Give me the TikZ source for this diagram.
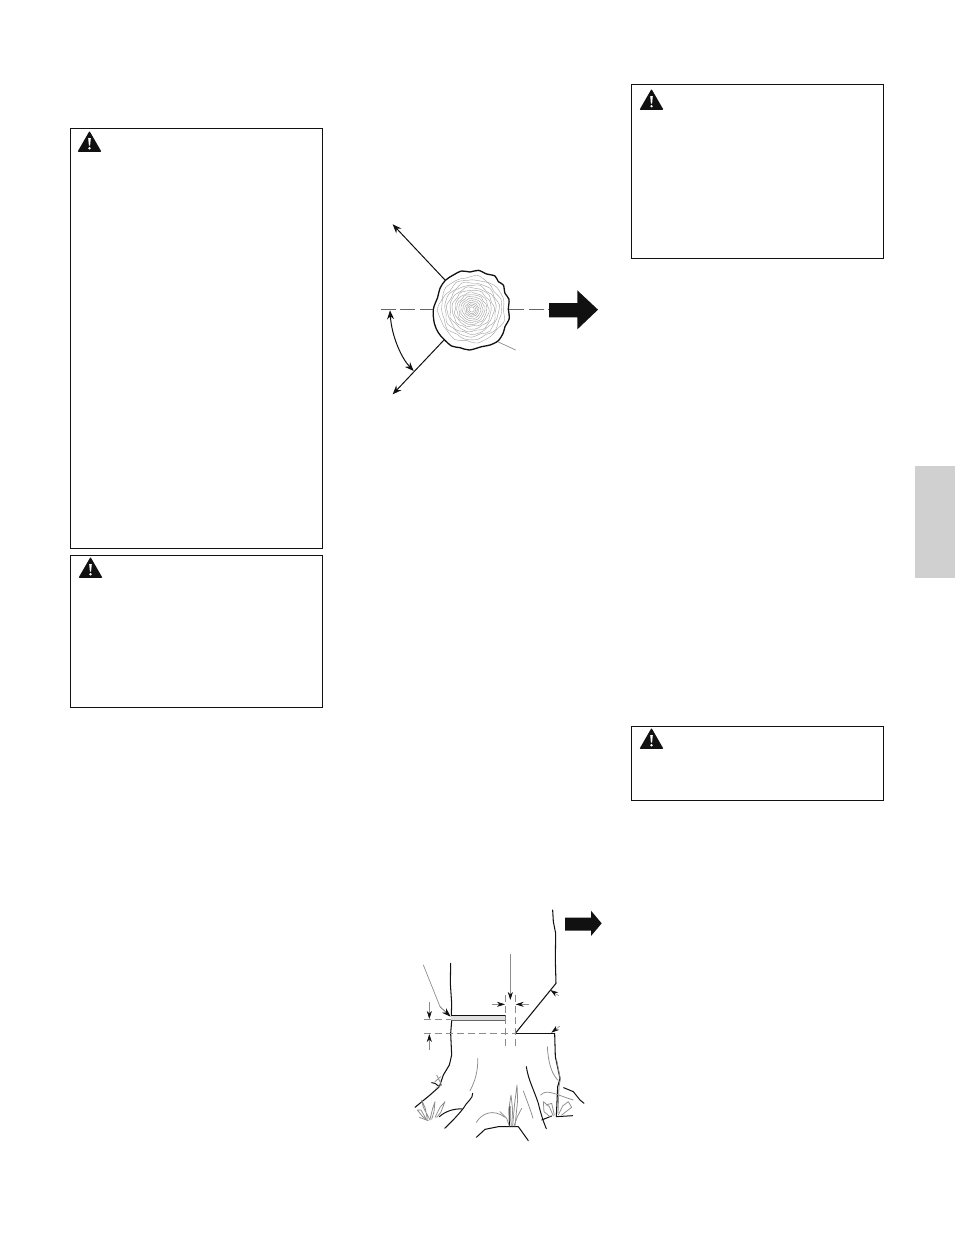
\documentclass[tikz,border=0pt]{standalone}
\usetikzlibrary{arrows.meta}
\definecolor{tabgray}{HTML}{D0D0D0}
\definecolor{ink}{HTML}{111111}
\definecolor{ringgray}{HTML}{A0A0A0}
\definecolor{dashgray}{HTML}{666666}
\definecolor{softgray}{HTML}{8C8C8C}
\tikzset{
  warnbox/.style={draw=ink,line width=0.8pt,rectangle,inner sep=0pt,fill=white},
  warnicon/.pic={
    \fill[ink,rounded corners=0.8pt] (0,-11) -- (12,9.8) -- (-12,9.8) -- cycle;
    \fill[white] (-1.3,-4) -- (1.3,-4) -- (0.6,3.6) -- (-0.6,3.6) -- cycle;
    \fill[white] (0,6.2) circle (1.3);
  },
  solidline/.style={draw=ink,line width=1.05pt,line cap=round,line join=round},
  thinline/.style={draw=softgray,line width=0.7pt,line cap=round,line join=round},
  dimdash/.style={draw=softgray,line width=0.65pt,dash pattern=on 7pt off 4pt},
  logdash/.style={draw=dashgray,line width=1.2pt,dash pattern=on 15pt off 4.5pt},
  dimarrow/.style={draw=softgray,line width=0.6pt,-{Stealth[length=8pt,width=5pt,color=ink]}},
  bigarrow/.style={fill=ink,draw=none},
  fellarrow/.style={draw=ink,line width=1pt,-{Stealth[length=9pt,width=7pt]}},
  rootdark/.style={draw=ink,line width=1pt,line cap=round,line join=round},
  rootgray/.style={draw=softgray,line width=0.75pt,line cap=round,line join=round},
}
\begin{document}
\begin{tikzpicture}[x=1pt,y=-1pt]
\useasboundingbox (0,0) rectangle (954,1235);
\fill[white] (0,0) rectangle (954,1235);

% side tab
\node (tab) [fill=tabgray,draw=none,minimum width=40pt,minimum height=112pt,inner sep=0pt] at (934.5,522) {};

% warning boxes
\node (boxA) [warnbox,minimum width=252pt,minimum height=420pt] at (196.5,338) {};
\node (boxB) [warnbox,minimum width=252pt,minimum height=152pt] at (196.5,631.5) {};
\node (boxC) [warnbox,minimum width=252pt,minimum height=174pt] at (757.5,171.5) {};
\node (boxD) [warnbox,minimum width=252pt,minimum height=74pt] at (757.5,763.5) {};
\pic at (89.5,142) {warnicon};
\pic at (90.5,568) {warnicon};
\pic at (651.5,100) {warnicon};
\pic at (651.5,739) {warnicon};

% ===== log cross-section =====
\foreach \r/\p in {2.5/10,4/40,5.5/80,7/120,9/20,11/60,13/100,15/150,17/30,19.5/200,22/70,24.5/250,27/110,30/170,33/300}{
  \draw[ringgray,line width=0.4pt]
    plot[smooth cycle,domain=0:350,samples=36]
    ({471.7+(\r*(1+0.03*sin(7*\x+\p)+0.02*sin(11*\x+2*\p)))*cos(\x)},
     {309.5+(\r*(1+0.03*sin(7*\x+\p)+0.02*sin(11*\x+2*\p)))*sin(\x)});
}
\begin{scope}[xshift=370pt,yshift=-210pt,x=0.33333pt,y=-0.33333pt]
\draw[ink,line width=1.3pt,line join=round] plot[smooth cycle,tension=0.55] coordinates {
 (226,211) (250,195) (275,183) (300,186) (325,181) (350,192) (375,198) (385,215)
 (400,225) (405,250) (417,268) (415,298) (418,325) (405,350) (400,368) (385,392)
 (360,405) (335,410) (298,420) (270,413) (245,408) (222,388) (205,368) (193,340)
 (190,298) (203,262) (210,235)};
\coordinate (logNW) at (225,210);
\coordinate (farNW) at (68,43);
\coordinate (logSW) at (221,391);
\coordinate (farSW) at (68,553);
\coordinate (dashA) at (32,298);
\coordinate (dashB) at (190,298);
\coordinate (dashC) at (418,298);
\coordinate (dashD) at (537,298);
\coordinate (angleA) at (60,301);
\coordinate (angleB) at (131,483);
\coordinate (leadA) at (385,396);
\coordinate (leadB) at (437,420);
\draw[fellarrow] (logNW) -- (farNW);
\draw[fellarrow] (logSW) -- (farSW);
\draw[logdash] (dashA) -- (dashB);
\draw[logdash] (dashC) -- (dashD);
\draw[ink,line width=1pt,{Stealth[length=9pt,width=7pt]}-{Stealth[length=9pt,width=7pt]}] (angleA) .. controls (65,380) and (95,445) .. (angleB);
\draw[thinline] (leadA) -- (leadB);
\fill[bigarrow] (537,279) -- (622,279) -- (622,241) -- (684,299) -- (622,358) -- (622,322) -- (537,322) -- cycle;
\end{scope}

% ===== stump: upper part =====
\begin{scope}[xshift=410pt,yshift=-900pt,x=0.33333pt,y=-0.33333pt]
\fill[bigarrow] (465,53) -- (543,53) -- (543,32) -- (575,70) -- (543,108) -- (543,92) -- (465,92) -- cycle;
\coordinate (trunkTop) at (428,30);
\coordinate (hinge) at (438,250);
\coordinate (noseTop) at (316,400);
\draw[solidline] (trunkTop) -- (430,65) -- (437,100) -- (436,180) -- (hinge) -- (noseTop);
\draw[solidline] (122,190) -- (121,250) -- (125,310) -- (124,345);
% back cut
\fill[gray!25] (124,346) rectangle (285,360);
\draw[ink,line width=1.1pt] (124,346) -- (285,346);
\draw[draw=dashgray,line width=0.9pt] (124,361) -- (285,361) -- (285,346);
% leaders
\coordinate (leadC) at (40,195);
\coordinate (leadD) at (122,350);
\draw[thinline] (leadC) -- (90,320);
\draw[draw=dashgray,line width=0.7pt,-{Stealth[length=9pt,width=6pt,color=ink]}] (90,320) -- (leadD);
\coordinate (dimTop) at (301,162);
\coordinate (dimBot) at (301,300);
\draw[dimarrow] (dimTop) -- (dimBot);
\coordinate (hL1) at (245,313);
\coordinate (hL2) at (285,313);
\coordinate (hR1) at (358,313);
\coordinate (hR2) at (317,313);
\draw[dimarrow] (hL1) -- (hL2);
\draw[dimarrow] (hR1) -- (hR2);
\coordinate (vA1) at (58,307);
\coordinate (vA2) at (58,357);
\draw[dimarrow] (vA1) -- (vA2);
\coordinate (nA1) at (446,287);
\coordinate (nA2) at (421,270);
\draw[dimarrow] (nA1) -- (nA2);
\end{scope}

% ===== stump: lower part =====
\begin{scope}[xshift=410pt,yshift=-1020pt,x=0.33333pt,y=-0.33333pt]
\coordinate (cutR) at (434,40);
\coordinate (cutL) at (316,40);
\draw[solidline] (cutL) -- (cutR);
\draw[solidline] (125,3) -- (122,40) -- (125,105) -- (118,135) -- (100,165) -- (88,200) -- (60,225) -- (15,262);
\draw[solidline] (cutR) -- (436,110) -- (450,175) -- (443,200) -- (439,290);
\draw[rootgray] (440,120) -- (451,178) -- (447,200) -- (444,280);
\draw[rootgray] (412,80) .. controls (415,130) and (425,160) .. (443,180);
% dashes
\coordinate (dh1) at (43,40);
\coordinate (dh2) at (316,40);
\draw[dimdash] (dh1) -- (dh2);
\coordinate (dv1) at (285,-75);
\coordinate (dv2) at (285,90);
\coordinate (dv3) at (317,-75);
\coordinate (dv4) at (317,90);
\draw[dimdash] (dv1) -- (dv2);
\draw[dimdash] (dv3) -- (dv4);
\coordinate (dh3) at (43,-3);
\coordinate (dh4) at (124,-3);
\draw[dimdash] (dh3) -- (dh4);
\coordinate (vB1) at (58,90);
\coordinate (vB2) at (58,42);
\draw[dimarrow] (vB1) -- (vB2);
\coordinate (nB1) at (450,18);
\coordinate (nB2) at (424,38);
\draw[dimarrow] (nB1) -- (nB2);
% stump contours
\draw[rootgray] (203,115) .. controls (205,150) and (195,185) .. (180,212);
\draw[rootdark] (349,140) .. controls (355,180) and (370,205) .. (385,250) .. controls (392,280) and (400,305) .. (409,326);
\draw[rootgray] (340,213) .. controls (350,240) and (360,265) .. (369,295);
\draw[rootdark] (188,220) .. controls (190,235) and (170,245) .. (160,265) .. controls (140,290) and (120,310) .. (104,325);
\draw[rootdark] (157,267) .. controls (130,265) and (105,275) .. (88,290);
\draw[rootdark] (199,352) -- (225,328) -- (265,320) -- (300,320) -- (325,320) -- (355,362);
\draw[rootgray] (199,307) .. controls (215,280) and (250,265) .. (285,292);
\draw[rootdark] (461,203) -- (490,215) -- (510,240) -- (522,250);
\draw[rootgray] (392,225) .. controls (410,205) and (440,225) .. (490,240);
\draw[rootdark] (439,290) -- (488,287);
\draw[rootdark] (395,300) -- (425,288);
% grass centre
\draw[rootgray] (298,318) -- (296,270) -- (303,225) -- (308,270) -- (305,318);
\draw[rootgray] (308,318) -- (314,250) -- (321,195) -- (323,240) -- (315,318);
\draw[rootdark] (299,318) -- (300,260);
\draw[rootgray] (270,275) -- (290,295) -- (298,318);
\draw[rootgray] (335,265) -- (322,290) -- (312,318);
% grass left
\draw[rootgray] (52,298) -- (46,265) -- (35,240) -- (40,262) -- (60,300);
\draw[rootgray] (22,270) -- (38,290) -- (50,300) -- (33,270) -- (22,270);
\draw[rootgray] (28,292) -- (55,302);
\draw[rootgray] (60,298) -- (68,265) -- (75,245) -- (72,275) -- (65,298);
\draw[rootgray] (75,292) -- (90,262) -- (105,245) -- (92,278) -- (80,292);
\draw[rootdark] (88,200) -- (75,190) -- (65,188);
\draw[rootgray] (80,165) -- (95,195) -- (78,205);
\draw[rootgray] (92,170) -- (75,185);
% grass right
\draw[rootgray] (430,288) -- (418,260) -- (400,245) -- (402,275) -- (420,290);
\draw[rootgray] (408,255) -- (425,250) -- (433,285);
\draw[rootgray] (445,285) -- (458,258) -- (475,245) -- (485,262) -- (455,285);
\end{scope}
\end{tikzpicture}
\end{document}
